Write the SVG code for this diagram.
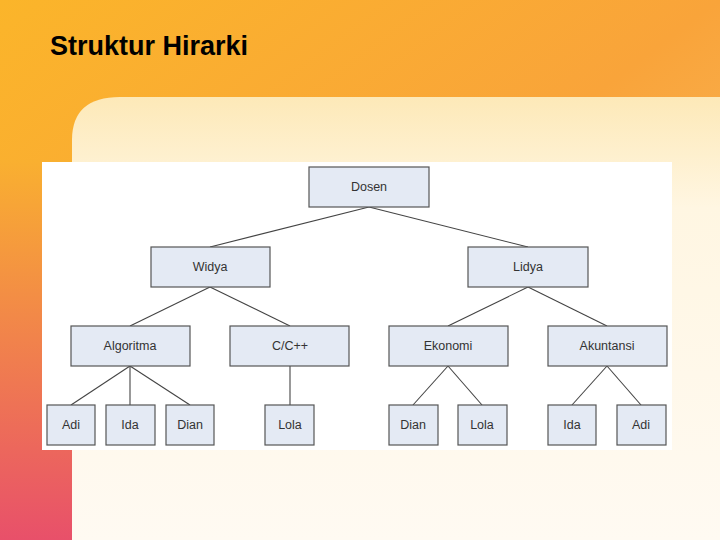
<svg xmlns="http://www.w3.org/2000/svg" width="720" height="540" viewBox="0 0 720 540">
<defs>
<linearGradient id="bg" x1="0" y1="0" x2="1" y2="1">
<stop offset="0" stop-color="#fbb52a"/><stop offset="0.5" stop-color="#f9a43a"/><stop offset="1" stop-color="#f7c070"/>
</linearGradient>
<linearGradient id="left" x1="0" y1="0" x2="0" y2="1">
<stop offset="0" stop-color="#f9b030"/><stop offset="1" stop-color="#e8506a"/>
</linearGradient>
<linearGradient id="panel" x1="0" y1="0" x2="0" y2="1">
<stop offset="0" stop-color="#fde9b8"/><stop offset="0.25" stop-color="#fff6e2"/><stop offset="1" stop-color="#fffaf2"/>
</linearGradient>
<style>
.n rect{fill:#e4eaf4;stroke:#555;stroke-width:1.2}
.n text{font-family:"Liberation Sans",Arial,sans-serif;font-size:12.5px;fill:#333;text-anchor:middle}
#edges line{stroke:#444;stroke-width:1.1}
</style>
</defs>
<rect width="720" height="540" fill="url(#bg)"/>
<rect x="0" y="160" width="72" height="380" fill="url(#left)"/>
<path d="M72,540 V140 Q72,97 120,97 H720 V540 Z" fill="url(#panel)"/>
<text x="50" y="55" font-family="Liberation Sans,Arial,sans-serif" font-size="27" font-weight="bold" fill="#000">Struktur Hirarki</text>
<rect x="42" y="162" width="630" height="288" fill="#ffffff"/>
<g id="edges">
<line x1="369" y1="207" x2="210" y2="247"/><line x1="369" y1="207" x2="528" y2="247"/>
<line x1="210" y1="287" x2="130" y2="326"/><line x1="210" y1="287" x2="290" y2="326"/>
<line x1="528" y1="287" x2="448" y2="326"/><line x1="528" y1="287" x2="607" y2="326"/>
<line x1="130" y1="366" x2="71" y2="405"/><line x1="130" y1="366" x2="130" y2="405"/><line x1="130" y1="366" x2="190" y2="405"/>
<line x1="290" y1="366" x2="290" y2="405"/>
<line x1="448" y1="366" x2="413" y2="405"/><line x1="448" y1="366" x2="482" y2="405"/>
<line x1="607" y1="366" x2="572" y2="405"/><line x1="607" y1="366" x2="641" y2="405"/>
</g>
<g id="dosen" class="n"><rect x="309" y="167" width="120" height="40"/><text x="369" y="191">Dosen</text></g>
<g id="widya" class="n"><rect x="151" y="247" width="119" height="40"/><text x="210" y="271">Widya</text></g>
<g id="lidya" class="n"><rect x="468" y="247" width="120" height="40"/><text x="528" y="271">Lidya</text></g>
<g id="algoritma" class="n"><rect x="71" y="326" width="119" height="40"/><text x="130" y="350">Algoritma</text></g>
<g id="cpp" class="n"><rect x="230" y="326" width="119" height="40"/><text x="290" y="350">C/C++</text></g>
<g id="ekonomi" class="n"><rect x="389" y="326" width="119" height="40"/><text x="448" y="350">Ekonomi</text></g>
<g id="akuntansi" class="n"><rect x="548" y="326" width="119" height="40"/><text x="607" y="350">Akuntansi</text></g>
<g id="adi1" class="n"><rect x="47" y="405" width="48" height="40"/><text x="71" y="429">Adi</text></g>
<g id="ida1" class="n"><rect x="106" y="405" width="49" height="40"/><text x="130" y="429">Ida</text></g>
<g id="dian1" class="n"><rect x="166" y="405" width="48" height="40"/><text x="190" y="429">Dian</text></g>
<g id="lola1" class="n"><rect x="265" y="405" width="49" height="40"/><text x="290" y="429">Lola</text></g>
<g id="dian2" class="n"><rect x="389" y="405" width="49" height="40"/><text x="413" y="429">Dian</text></g>
<g id="lola2" class="n"><rect x="458" y="405" width="49" height="40"/><text x="482" y="429">Lola</text></g>
<g id="ida2" class="n"><rect x="548" y="405" width="48" height="40"/><text x="572" y="429">Ida</text></g>
<g id="adi2" class="n"><rect x="617" y="405" width="49" height="40"/><text x="641" y="429">Adi</text></g>
</svg>
